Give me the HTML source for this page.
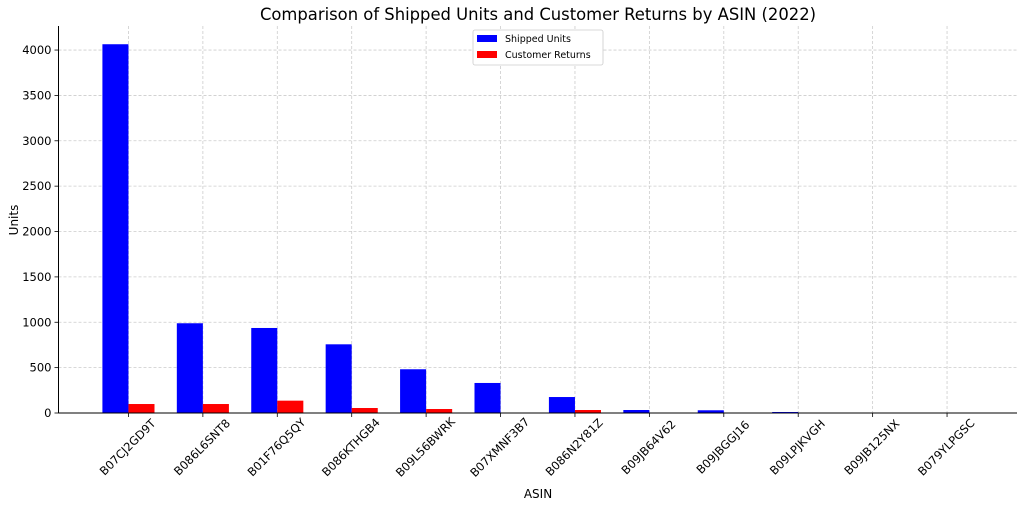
<!DOCTYPE html>
<html><head><meta charset="utf-8"><style>
html,body{margin:0;padding:0;background:#fff;}
svg text{font-family:"DejaVu Sans","Liberation Sans",sans-serif;fill:#000;}
</style></head><body>
<svg id="chart" width="1024" height="508" viewBox="0 0 1024 508" xmlns="http://www.w3.org/2000/svg">
<text x="538" y="20" font-size="16.4" text-anchor="middle">Comparison of Shipped Units and Customer Returns by ASIN (2022)</text>
<g id="grid"></g>
<g id="bars"></g>
<g id="axes"></g>
<text x="538" y="498" font-size="12" text-anchor="middle">ASIN</text>
<text transform="translate(18,220) rotate(-90)" font-size="12" text-anchor="middle">Units</text>
<g>
<rect x="473" y="30" width="130" height="35" fill="#fff" stroke="#ccc" stroke-width="0.8" rx="2"/>
<g><rect x="477" y="35" width="20" height="7" fill="#0000ff"/><text x="505" y="42" font-size="9.5">Shipped Units</text></g>
<g><rect x="477" y="51" width="20" height="7" fill="#ff0000"/><text x="505" y="58" font-size="9.5">Customer Returns</text></g>
</g>
</svg>
<script>
const categories=["B07CJ2GD9T","B086L6SNT8","B01F76Q5QY","B086KTHGB4","B09L56BWRK","B07XMNF3B7","B086N2Y81Z","B09JB64V62","B09JBGGJ16","B09LPJKVGH","B09JB125NX","B079YLPGSC"];
const shipped=[4064,989,937,757,482,331,176,33,30,11,4,1];
const returns=[99,99,136,55,44,3,33,0,0,0,1,0];
const yTicks=[0,500,1000,1500,2000,2500,3000,3500,4000];
const NS="http://www.w3.org/2000/svg";
const L=58.5,R=1017,T=26,B=413;
const xmin=-0.94,xmax=11.94,ymax=4265;
const x=v=>L+(v-xmin)/(xmax-xmin)*(R-L);
const y=v=>B-v/ymax*(B-T);
const bw=0.35;
function mk(t,a,p){const e=document.createElementNS(NS,t);for(const k in a)e.setAttribute(k,a[k]);p.appendChild(e);return e;}
const grid=document.getElementById('grid'),bars=document.getElementById('bars'),axes=document.getElementById('axes');
yTicks.forEach(v=>{
 const g=mk('line',{x1:L,x2:R,y1:y(v),y2:y(v),stroke:'#ccc','stroke-width':0.8,'stroke-dasharray':'3,2'},grid);
 
 
 mk('line',{x1:L-4,x2:L,y1:y(v),y2:y(v),stroke:'#000','stroke-width':0.8},axes);
 const t=mk('text',{x:L-7,y:y(v)+4,'font-size':11.5,'text-anchor':'end'},axes);t.textContent=v;
 
 
});
categories.forEach((c,i)=>{
 const gl=mk('line',{x1:x(i),x2:x(i),y1:T,y2:B,stroke:'#ccc','stroke-width':0.8,'stroke-dasharray':'3,2'},grid);
 
 
 const b1=mk('rect',{x:x(i-bw),y:y(shipped[i]),width:x(i)-x(i-bw),height:B-y(shipped[i]),fill:'#0000ff'},bars);
 
 
 const b2=mk('rect',{x:x(i),y:y(returns[i]),width:x(i+bw)-x(i),height:B-y(returns[i]),fill:'#ff0000'},bars);
 
 
 mk('line',{x1:x(i),x2:x(i),y1:B,y2:B+4,stroke:'#000','stroke-width':0.8},axes);
 const t=mk('text',{x:0,y:0,'font-size':11.5,'text-anchor':'middle',transform:`translate(${x(i)+2},${B+37}) rotate(-45)`},axes);
 t.textContent=c;
 
 
});
mk('line',{x1:L,x2:L,y1:T,y2:B,stroke:'#000','stroke-width':1},axes);
mk('line',{x1:L,x2:R,y1:B,y2:B,stroke:'#000','stroke-width':1},axes);
</script>
</body></html>
